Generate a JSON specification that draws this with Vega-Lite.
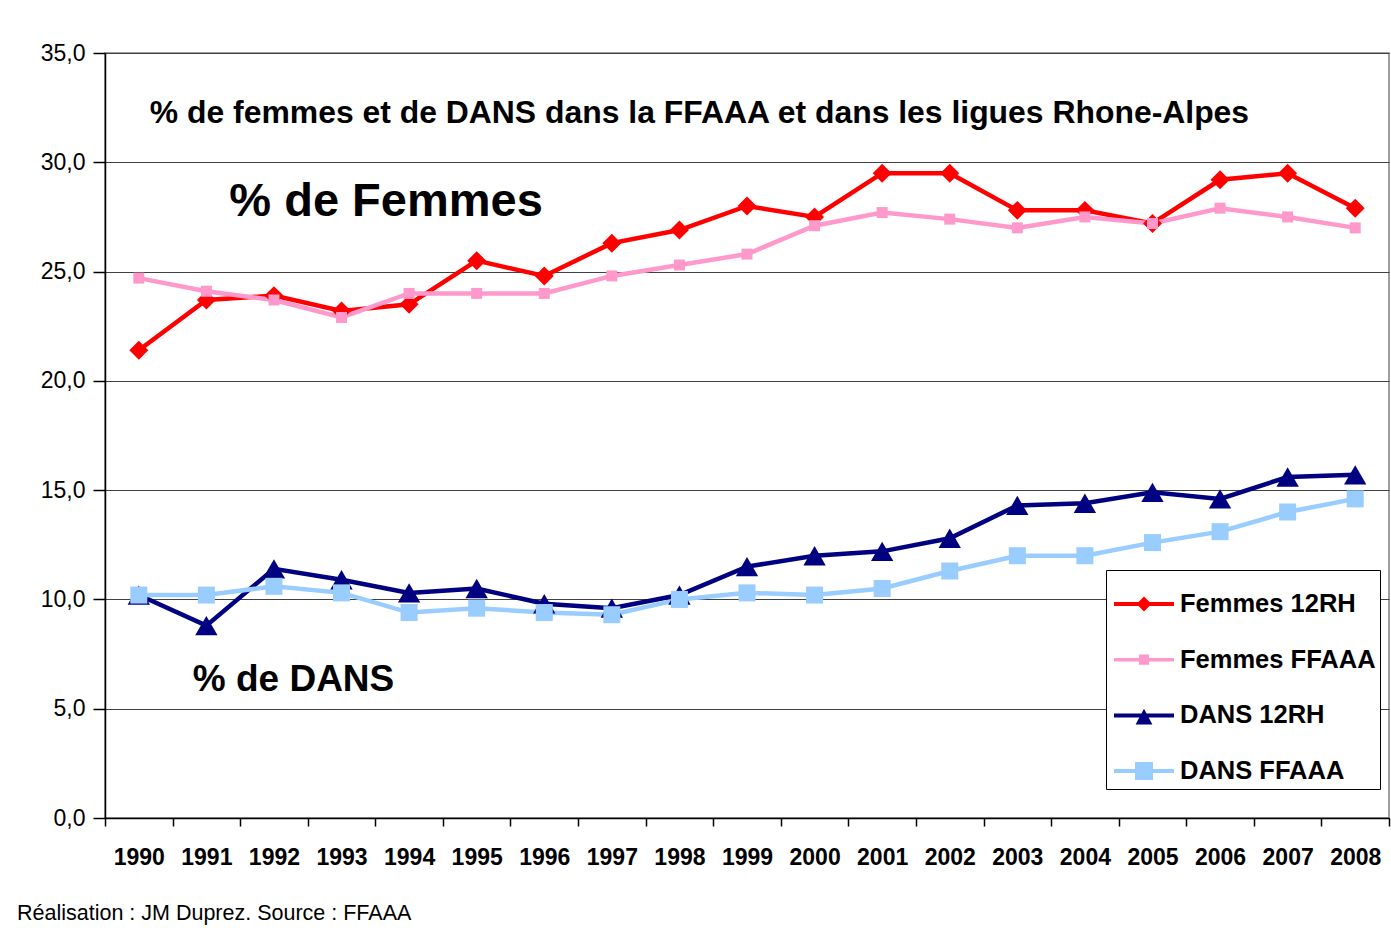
{
  "$schema": "https://vega.github.io/schema/vega-lite/v6.json",
  "autosize": {"type": "none"},
  "padding": {"left": 105, "top": 53, "right": 2, "bottom": 112},
  "width": 1284,
  "height": 765,
  "background": "white",
  "title": {
    "text": "Réalisation : JM Duprez. Source : FFAAA",
    "orient": "bottom",
    "anchor": "start",
    "frame": "group",
    "dx": -88,
    "offset": 34,
    "font": "Liberation Sans",
    "fontSize": 21.5,
    "fontWeight": "normal",
    "color": "black"
  },
  "config": {
    "view": {"stroke": "#808080", "strokeWidth": 1.5},
    "font": "Liberation Sans",
    "axis": {"labelColor": "black", "domainColor": "black", "tickColor": "black", "gridColor": "#404040", "gridWidth": 1}
  },
  "datasets": {
    "main": [
      {"year": "1990", "series": "Femmes 12RH", "value": 21.4},
      {"year": "1991", "series": "Femmes 12RH", "value": 23.7},
      {"year": "1992", "series": "Femmes 12RH", "value": 23.9},
      {"year": "1993", "series": "Femmes 12RH", "value": 23.2},
      {"year": "1994", "series": "Femmes 12RH", "value": 23.5},
      {"year": "1995", "series": "Femmes 12RH", "value": 25.5},
      {"year": "1996", "series": "Femmes 12RH", "value": 24.8},
      {"year": "1997", "series": "Femmes 12RH", "value": 26.3},
      {"year": "1998", "series": "Femmes 12RH", "value": 26.9},
      {"year": "1999", "series": "Femmes 12RH", "value": 28.0},
      {"year": "2000", "series": "Femmes 12RH", "value": 27.5},
      {"year": "2001", "series": "Femmes 12RH", "value": 29.5},
      {"year": "2002", "series": "Femmes 12RH", "value": 29.5},
      {"year": "2003", "series": "Femmes 12RH", "value": 27.8},
      {"year": "2004", "series": "Femmes 12RH", "value": 27.8},
      {"year": "2005", "series": "Femmes 12RH", "value": 27.2},
      {"year": "2006", "series": "Femmes 12RH", "value": 29.2},
      {"year": "2007", "series": "Femmes 12RH", "value": 29.5},
      {"year": "2008", "series": "Femmes 12RH", "value": 27.9},
      {"year": "1990", "series": "Femmes FFAAA", "value": 24.7},
      {"year": "1991", "series": "Femmes FFAAA", "value": 24.1},
      {"year": "1992", "series": "Femmes FFAAA", "value": 23.7},
      {"year": "1993", "series": "Femmes FFAAA", "value": 22.9},
      {"year": "1994", "series": "Femmes FFAAA", "value": 24.0},
      {"year": "1995", "series": "Femmes FFAAA", "value": 24.0},
      {"year": "1996", "series": "Femmes FFAAA", "value": 24.0},
      {"year": "1997", "series": "Femmes FFAAA", "value": 24.8},
      {"year": "1998", "series": "Femmes FFAAA", "value": 25.3},
      {"year": "1999", "series": "Femmes FFAAA", "value": 25.8},
      {"year": "2000", "series": "Femmes FFAAA", "value": 27.1},
      {"year": "2001", "series": "Femmes FFAAA", "value": 27.7},
      {"year": "2002", "series": "Femmes FFAAA", "value": 27.4},
      {"year": "2003", "series": "Femmes FFAAA", "value": 27.0},
      {"year": "2004", "series": "Femmes FFAAA", "value": 27.5},
      {"year": "2005", "series": "Femmes FFAAA", "value": 27.2},
      {"year": "2006", "series": "Femmes FFAAA", "value": 27.9},
      {"year": "2007", "series": "Femmes FFAAA", "value": 27.5},
      {"year": "2008", "series": "Femmes FFAAA", "value": 27.0},
      {"year": "1990", "series": "DANS 12RH", "value": 10.2},
      {"year": "1991", "series": "DANS 12RH", "value": 8.8},
      {"year": "1992", "series": "DANS 12RH", "value": 11.4},
      {"year": "1993", "series": "DANS 12RH", "value": 10.9},
      {"year": "1994", "series": "DANS 12RH", "value": 10.3},
      {"year": "1995", "series": "DANS 12RH", "value": 10.5},
      {"year": "1996", "series": "DANS 12RH", "value": 9.8},
      {"year": "1997", "series": "DANS 12RH", "value": 9.6},
      {"year": "1998", "series": "DANS 12RH", "value": 10.2},
      {"year": "1999", "series": "DANS 12RH", "value": 11.5},
      {"year": "2000", "series": "DANS 12RH", "value": 12.0},
      {"year": "2001", "series": "DANS 12RH", "value": 12.2},
      {"year": "2002", "series": "DANS 12RH", "value": 12.8},
      {"year": "2003", "series": "DANS 12RH", "value": 14.3},
      {"year": "2004", "series": "DANS 12RH", "value": 14.4},
      {"year": "2005", "series": "DANS 12RH", "value": 14.9},
      {"year": "2006", "series": "DANS 12RH", "value": 14.6},
      {"year": "2007", "series": "DANS 12RH", "value": 15.6},
      {"year": "2008", "series": "DANS 12RH", "value": 15.7},
      {"year": "1990", "series": "DANS FFAAA", "value": 10.2},
      {"year": "1991", "series": "DANS FFAAA", "value": 10.2},
      {"year": "1992", "series": "DANS FFAAA", "value": 10.6},
      {"year": "1993", "series": "DANS FFAAA", "value": 10.3},
      {"year": "1994", "series": "DANS FFAAA", "value": 9.4},
      {"year": "1995", "series": "DANS FFAAA", "value": 9.6},
      {"year": "1996", "series": "DANS FFAAA", "value": 9.4},
      {"year": "1997", "series": "DANS FFAAA", "value": 9.3},
      {"year": "1998", "series": "DANS FFAAA", "value": 10.0},
      {"year": "1999", "series": "DANS FFAAA", "value": 10.3},
      {"year": "2000", "series": "DANS FFAAA", "value": 10.2},
      {"year": "2001", "series": "DANS FFAAA", "value": 10.5},
      {"year": "2002", "series": "DANS FFAAA", "value": 11.3},
      {"year": "2003", "series": "DANS FFAAA", "value": 12.0},
      {"year": "2004", "series": "DANS FFAAA", "value": 12.0},
      {"year": "2005", "series": "DANS FFAAA", "value": 12.6},
      {"year": "2006", "series": "DANS FFAAA", "value": 13.1},
      {"year": "2007", "series": "DANS FFAAA", "value": 14.0},
      {"year": "2008", "series": "DANS FFAAA", "value": 14.6}
    ]
  },
  "layer": [
    {
      "data": {"name": "main"},
      "mark": {"type": "line", "strokeWidth": 4.5},
      "encoding": {
        "x": {
          "field": "year", "type": "ordinal",
          "scale": {"type": "band", "paddingInner": 0, "paddingOuter": 0},
          "axis": {
            "title": null, "labelAngle": 0, "tickBand": "extent", "tickSize": 8,
            "labelFontSize": 23, "labelFontWeight": "bold", "labelPadding": 20,
            "domainWidth": 1.5, "tickWidth": 1.5
          }
        },
        "y": {
          "field": "value", "type": "quantitative",
          "scale": {"domain": [0, 35], "nice": false},
          "axis": {
            "title": null, "values": [0, 5, 10, 15, 20, 25, 30, 35],
            "labelExpr": "replace(format(datum.value, '.1f'), '.', ',')",
            "labelFontSize": 23, "tickSize": 12, "labelPadding": 8,
            "domainWidth": 1.5, "tickWidth": 1.5
          }
        },
        "color": {
          "field": "series", "type": "nominal",
          "scale": {"domain": ["Femmes 12RH", "Femmes FFAAA", "DANS 12RH", "DANS FFAAA"],
                    "range": ["#FF0000", "#FF99CC", "#000080", "#99CCFF"]},
          "legend": null
        },
        "order": {"field": "year"}
      }
    },
    {
      "data": {"name": "main"},
      "mark": {"type": "point", "filled": true, "opacity": 1, "strokeWidth": 0},
      "encoding": {
        "x": {"field": "year", "type": "ordinal"},
        "y": {"field": "value", "type": "quantitative"},
        "color": {
          "field": "series", "type": "nominal",
          "scale": {"domain": ["Femmes 12RH", "Femmes FFAAA", "DANS 12RH", "DANS FFAAA"],
                    "range": ["#FF0000", "#FF99CC", "#000080", "#99CCFF"]},
          "legend": null
        },
        "shape": {
          "field": "series", "type": "nominal",
          "scale": {"domain": ["Femmes 12RH", "Femmes FFAAA", "DANS 12RH", "DANS FFAAA"],
                    "range": ["diamond", "square", "triangle-up", "square"]},
          "legend": null
        },
        "size": {
          "field": "series", "type": "nominal",
          "scale": {"type": "ordinal", "domain": ["Femmes 12RH", "Femmes FFAAA", "DANS 12RH", "DANS FFAAA"],
                    "range": [360, 121, 500, 289]},
          "legend": null
        }
      }
    },
    {
      "data": {"values": []},
      "mark": {"type": "point", "filled": true, "opacity": 1, "strokeWidth": 0},
      "encoding": {
        "color": {
          "field": "series", "type": "nominal",
          "scale": {"domain": ["Femmes 12RH", "Femmes FFAAA", "DANS 12RH", "DANS FFAAA"],
                    "range": ["#FF0000", "#FF99CC", "#000080", "#99CCFF"]},
          "legend": {
            "title": null,
            "orient": "none",
            "legendX": 1001,
            "legendY": 517,
            "strokeColor": "#000000",
            "fillColor": "white",
            "padding": 4,
            "symbolSize": 3600,
            "symbolOffset": 4,
            "symbolStrokeWidth": 0,
            "symbolOpacity": 1,
            "labelFont": "Liberation Sans",
            "labelFontSize": 25.5,
            "labelFontWeight": "bold",
            "labelColor": "black",
            "labelOffset": 6,
            "labelLimit": 400,
            "rowPadding": 11.7
          }
        },
        "shape": {
          "field": "series", "type": "nominal",
          "scale": {"domain": ["Femmes 12RH", "Femmes FFAAA", "DANS 12RH", "DANS FFAAA"],
                    "range": [
                      "M-1,-0.067H1V0.067H-1ZM0,-0.25L0.25,0L0,0.25L-0.25,0Z",
                      "M-1,-0.06H1V0.06H-1ZM-0.17,-0.17H0.17V0.17H-0.17Z",
                      "M-1,-0.067H1V0.067H-1ZM0,-0.22L0.28,0.3L-0.28,0.3Z",
                      "M-1,-0.067H1V0.067H-1ZM-0.3,-0.3H0.3V0.3H-0.3Z"
                    ]},
          "legend": {
            "title": null,
            "orient": "none",
            "legendX": 1001,
            "legendY": 517,
            "strokeColor": "#000000",
            "fillColor": "white",
            "padding": 4,
            "symbolSize": 3600,
            "symbolOffset": 4,
            "symbolStrokeWidth": 0,
            "symbolOpacity": 1,
            "labelFont": "Liberation Sans",
            "labelFontSize": 25.5,
            "labelFontWeight": "bold",
            "labelColor": "black",
            "labelOffset": 6,
            "labelLimit": 400,
            "rowPadding": 11.7
          }
        }
      }
    },
    {
      "data": {"values": [{"t": "% de femmes et de DANS dans la FFAAA et dans les ligues Rhone-Alpes"}]},
      "mark": {"type": "text", "align": "left", "baseline": "middle", "dx": 11, "fontSize": 31.9, "fontWeight": "bold", "font": "Liberation Sans", "color": "black"},
      "encoding": {
        "x": {"datum": "1990", "type": "ordinal"},
        "y": {"datum": 32.25, "type": "quantitative"},
        "text": {"field": "t"}
      }
    },
    {
      "data": {"values": [{"t": "% de Femmes"}]},
      "mark": {"type": "text", "align": "left", "baseline": "middle", "dx": 23, "fontSize": 47, "fontWeight": "bold", "font": "Liberation Sans", "color": "black"},
      "encoding": {
        "x": {"datum": "1991", "type": "ordinal"},
        "y": {"datum": 28.2, "type": "quantitative"},
        "text": {"field": "t"}
      }
    },
    {
      "data": {"values": [{"t": "% de DANS"}]},
      "mark": {"type": "text", "align": "left", "baseline": "middle", "dx": 54, "fontSize": 37, "fontWeight": "bold", "font": "Liberation Sans", "color": "black"},
      "encoding": {
        "x": {"datum": "1990", "type": "ordinal"},
        "y": {"datum": 6.3, "type": "quantitative"},
        "text": {"field": "t"}
      }
    }
  ],
  "resolve": {"scale": {"shape": "independent", "color": "independent"}}
}
